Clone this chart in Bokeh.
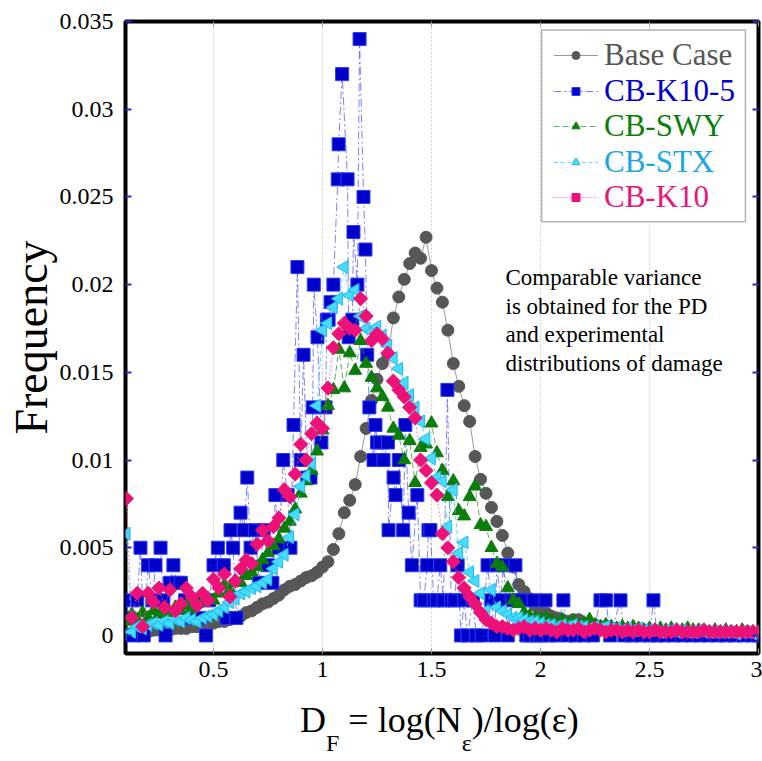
import math
from bokeh.plotting import figure
from bokeh.layouts import column
from bokeh.models import (Range1d, FixedTicker, Label, BoxAnnotation, Legend,
                          LegendItem, LinearAxis, CustomJSTickFormatter, Div)
from bokeh.embed import file_html
from bokeh.resources import INLINE

# ---------------- data ----------------
DF = [0.100, 0.125, 0.150, 0.175, 0.200, 0.225, 0.250, 0.275, 0.300, 0.325,
      0.350, 0.375, 0.400, 0.425, 0.450, 0.475, 0.500, 0.525, 0.550, 0.575,
      0.600, 0.625, 0.650, 0.675, 0.700, 0.725, 0.750, 0.775, 0.800, 0.825,
      0.850, 0.875, 0.900, 0.925, 0.950, 0.975, 1.000, 1.025, 1.050, 1.075,
      1.100, 1.125, 1.150, 1.175, 1.200, 1.225, 1.250, 1.275, 1.300, 1.325,
      1.350, 1.375, 1.400, 1.425, 1.450, 1.475, 1.500, 1.525, 1.550, 1.575,
      1.600, 1.625, 1.650, 1.675, 1.700, 1.725, 1.750, 1.775, 1.800, 1.825,
      1.850, 1.875, 1.900, 1.925, 1.950, 1.975, 2.000, 2.025, 2.050, 2.075,
      2.100, 2.125, 2.150, 2.175, 2.200, 2.225, 2.250, 2.275, 2.300, 2.325,
      2.350, 2.375, 2.400, 2.425, 2.450, 2.475, 2.500, 2.525, 2.550, 2.575,
      2.600, 2.625, 2.650, 2.675, 2.700, 2.725, 2.750, 2.775, 2.800, 2.825,
      2.850, 2.875, 2.900, 2.925, 2.950, 2.975, 3.000]

BASE_CASE = [0.0001, 0.0001, 0.0002, 0.0002, 0.0002, 0.0003, 0.0003, 0.0003, 0.0003, 0.0004,
             0.0004, 0.0004, 0.0005, 0.0005, 0.0005, 0.0006, 0.0007, 0.0008, 0.0008, 0.0009,
             0.0010, 0.0011, 0.0013, 0.0014, 0.0016, 0.0018, 0.0019, 0.0021, 0.0023, 0.0026,
             0.0028, 0.0029, 0.0031, 0.0033, 0.0034, 0.0036, 0.0039, 0.0042, 0.0049, 0.0058,
             0.0070, 0.0077, 0.0086, 0.0102, 0.0118, 0.0134, 0.0146, 0.0155, 0.0160, 0.0181,
             0.0193, 0.0203, 0.0212, 0.0218, 0.0215, 0.0227, 0.0208, 0.0198, 0.0190, 0.0174,
             0.0155, 0.0142, 0.0131, 0.0122, 0.0102, 0.0089, 0.0081, 0.0073, 0.0065, 0.0057,
             0.0047, 0.0039, 0.0029, 0.0025, 0.0021, 0.0017, 0.0015, 0.0013, 0.0011, 0.0010,
             0.0009, 0.0008, 0.0009, 0.0009, 0.0007, 0.0006, 0.0006, 0.0005, 0.0005, 0.0004,
             0.0004, 0.0004, 0.0003, 0.0003, 0.0003, 0.0003, 0.0002, 0.0002, 0.0002, 0.0002,
             0.0002, 0.0002, 0.0002, 0.0002, 0.0001, 0.0002, 0.0001, 0.0001, 0.0001, 0.0001,
             0.0001, 0.0001, 0.0001, 0.0001, 0.0001, 0.0001, 0.0001]

CB_SWY = [0.0008, 0.0012, 0.0009, 0.0013, 0.0010, 0.0014, 0.0012, 0.0015, 0.0013, 0.0016,
          0.0014, 0.0017, 0.0015, 0.0018, 0.0019, 0.0021, 0.0020, 0.0024, 0.0029, 0.0026,
          0.0031, 0.0030, 0.0034, 0.0036, 0.0039, 0.0043, 0.0047, 0.0051, 0.0055, 0.0061,
          0.0065, 0.0072, 0.0081, 0.0088, 0.0094, 0.0105, 0.0117, 0.0131, 0.0140, 0.0163,
          0.0141, 0.0161, 0.0151, 0.0168, 0.0155, 0.0147, 0.0141, 0.0136, 0.0130, 0.0118,
          0.0114, 0.0100, 0.0111, 0.0087, 0.0107, 0.0109, 0.0121, 0.0104, 0.0094, 0.0079,
          0.0088, 0.0071, 0.0068, 0.0079, 0.0085, 0.0063, 0.0062, 0.0050, 0.0041, 0.0039,
          0.0027, 0.0020, 0.0018, 0.0013, 0.0011, 0.0010, 0.0009, 0.0010, 0.0008, 0.0007,
          0.0009, 0.0007, 0.0008, 0.0006, 0.0007, 0.0009, 0.0006, 0.0005, 0.0006, 0.0005,
          0.0004, 0.0005, 0.0004, 0.0005, 0.0004, 0.0003, 0.0004, 0.0003, 0.0004, 0.0003,
          0.0004, 0.0003, 0.0003, 0.0004, 0.0003, 0.0003, 0.0003, 0.0002, 0.0003, 0.0002,
          0.0003, 0.0002, 0.0002, 0.0003, 0.0002, 0.0002, 0.0002]

CB_STX = [0.0058, 0.0002, 0.0005, 0.0004, 0.0006, 0.0007, 0.0006, 0.0008, 0.0007, 0.0009,
          0.0008, 0.0010, 0.0009, 0.0008, 0.0010, 0.0011, 0.0012, 0.0014, 0.0016, 0.0019,
          0.0021, 0.0024, 0.0025, 0.0027, 0.0028, 0.0030, 0.0032, 0.0038, 0.0042, 0.0046,
          0.0056, 0.0069, 0.0085, 0.0091, 0.0098, 0.0131, 0.0174, 0.0178, 0.0187, 0.0192,
          0.0210, 0.0194, 0.0197, 0.0182, 0.0175, 0.0173, 0.0176, 0.0171, 0.0165, 0.0158,
          0.0152, 0.0144, 0.0137, 0.0130, 0.0122, 0.0112, 0.0101, 0.0090, 0.0088, 0.0062,
          0.0083, 0.0047, 0.0053, 0.0036, 0.0031, 0.0024, 0.0014, 0.0026, 0.0016, 0.0014,
          0.0012, 0.0010, 0.0010, 0.0009, 0.0008, 0.0008, 0.0007, 0.0006, 0.0006, 0.0005,
          0.0006, 0.0005, 0.0006, 0.0005, 0.0005, 0.0004, 0.0005, 0.0004, 0.0005, 0.0004,
          0.0004, 0.0003, 0.0004, 0.0003, 0.0004, 0.0003, 0.0003, 0.0003, 0.0002, 0.0003,
          0.0003, 0.0002, 0.0003, 0.0002, 0.0002, 0.0003, 0.0002, 0.0002, 0.0002, 0.0002,
          0.0002, 0.0002, 0.0001, 0.0002, 0.0002, 0.0001, 0.0002]

CB_K10 = [0.0078, 0.0010, 0.0024, 0.0005, 0.0024, 0.0019, 0.0027, 0.0016, 0.0026, 0.0014,
          0.0018, 0.0027, 0.0022, 0.0017, 0.0024, 0.0020, 0.0032, 0.0027, 0.0035, 0.0022,
          0.0031, 0.0038, 0.0043, 0.0041, 0.0052, 0.0060, 0.0054, 0.0062, 0.0067, 0.0083,
          0.0079, 0.0092, 0.0109, 0.0100, 0.0115, 0.0121, 0.0118, 0.0141, 0.0164, 0.0172,
          0.0178, 0.0175, 0.0174, 0.0192, 0.0182, 0.0168, 0.0172, 0.0169, 0.0161, 0.0145,
          0.0140, 0.0136, 0.0130, 0.0124, 0.0100, 0.0094, 0.0087, 0.0080, 0.0058, 0.0050,
          0.0042, 0.0033, 0.0027, 0.0022, 0.0018, 0.0013, 0.0009, 0.0007, 0.0005, 0.0005,
          0.0004, 0.0003, 0.0004, 0.0005, 0.0003, 0.0004, 0.0003, 0.0004, 0.0003, 0.0002,
          0.0004, 0.0003, 0.0003, 0.0004, 0.0002, 0.0003, 0.0004, 0.0003, 0.0002, 0.0003,
          0.0003, 0.0002, 0.0003, 0.0002, 0.0003, 0.0002, 0.0002, 0.0003, 0.0002, 0.0002,
          0.0002, 0.0003, 0.0002, 0.0002, 0.0002, 0.0002, 0.0003, 0.0002, 0.0002, 0.0002,
          0.0002, 0.0002, 0.0002, 0.0002, 0.0002, 0.0002, 0.0002]

# CB-K10-5 is a small sample: its own abscissae
K105_DF = [0.100, 0.110, 0.130, 0.150, 0.165, 0.180, 0.200, 0.220, 0.234, 0.257,
           0.270, 0.280, 0.300, 0.316, 0.330, 0.350, 0.370, 0.400, 0.420, 0.440,
           0.465, 0.480, 0.500, 0.520, 0.547, 0.560, 0.578, 0.590, 0.605, 0.624,
           0.640, 0.655, 0.670, 0.690, 0.710, 0.730, 0.750, 0.770, 0.784, 0.800,
           0.820, 0.840, 0.853, 0.867, 0.885, 0.900, 0.913, 0.930, 0.945, 0.955,
           0.960, 0.977, 0.995, 1.014, 1.020, 1.028, 1.037, 1.050, 1.070, 1.074,
           1.090, 1.115, 1.120, 1.137, 1.142, 1.160, 1.170, 1.188, 1.197, 1.205,
           1.215, 1.234, 1.243, 1.250, 1.266, 1.280, 1.300, 1.303, 1.326, 1.335,
           1.350, 1.370, 1.380, 1.395, 1.410, 1.435, 1.450, 1.465, 1.480, 1.486,
           1.495, 1.510, 1.525, 1.540, 1.555, 1.573, 1.590, 1.605, 1.620, 1.635,
           1.650, 1.665, 1.690, 1.705, 1.730, 1.757, 1.775, 1.790, 1.800, 1.815,
           1.830, 1.850, 1.870, 1.885, 1.900, 1.915, 1.935, 1.950, 1.968, 1.985,
           2.000, 2.023, 2.040, 2.070, 2.105, 2.125, 2.160, 2.200, 2.240, 2.275,
           2.300, 2.320, 2.367, 2.385, 2.420, 2.460, 2.500, 2.518, 2.535, 2.570,
           2.610, 2.650, 2.690, 2.730, 2.770, 2.810, 2.850, 2.890, 2.930, 2.970,
           3.000]
CB_K10_5 = [0.002, 0.001, 0.000, 0.002, 0.005, 0.000, 0.004, 0.002, 0.004, 0.005,
            0.002, 0.000, 0.003, 0.004, 0.003, 0.003, 0.002, 0.001, 0.002, 0.001,
            0.000, 0.002, 0.004, 0.005, 0.004, 0.001, 0.006, 0.005, 0.001, 0.007,
            0.006, 0.009, 0.005, 0.006, 0.003, 0.006, 0.004, 0.003, 0.008, 0.005,
            0.010, 0.008, 0.005, 0.012, 0.021, 0.010, 0.016, 0.009, 0.009, 0.013,
            0.020, 0.017, 0.011, 0.013, 0.018, 0.018, 0.019, 0.020, 0.026, 0.028,
            0.032, 0.026, 0.017, 0.018, 0.023, 0.020, 0.034, 0.025, 0.022, 0.016,
            0.013, 0.010, 0.012, 0.011, 0.011, 0.010, 0.011, 0.006, 0.009, 0.008,
            0.010, 0.006, 0.012, 0.007, 0.004, 0.008, 0.002, 0.002, 0.004, 0.006,
            0.006, 0.002, 0.002, 0.004, 0.002, 0.014, 0.002, 0.002, 0.004, 0.000,
            0.002, 0.000, 0.002, 0.000, 0.000, 0.004, 0.002, 0.000, 0.004, 0.002,
            0.004, 0.000, 0.002, 0.004, 0.002, 0.002, 0.000, 0.000, 0.002, 0.000,
            0.000, 0.002, 0.000, 0.000, 0.002, 0.000, 0.000, 0.000, 0.000, 0.002,
            0.002, 0.000, 0.002, 0.000, 0.000, 0.000, 0.000, 0.002, 0.000, 0.000,
            0.000, 0.000, 0.000, 0.000, 0.000, 0.000, 0.000, 0.000, 0.000, 0.000,
            0.000]

X_TICKS = [0.5, 1.0, 1.5, 2.0, 2.5, 3.0]
X_TICK_LABELS = ["0.5", "1", "1.5", "2", "2.5", "3"]
Y_TICKS = [0.0, 0.005, 0.01, 0.015, 0.02, 0.025, 0.03, 0.035]
Y_TICK_LABELS = ["0", "0.005", "0.01", "0.015", "0.02", "0.025", "0.03", "0.035"]

SERIES_NAMES = ["Base Case", "CB-K10-5", "CB-SWY", "CB-STX", "CB-K10"]
NOTE_LINES = ["Comparable variance", "is obtained for the PD",
              "and experimental", "distributions of damage"]
Y_TITLE = "Frequency"

FONT = "Liberation Serif"

# ---------------- main figure ----------------
p = figure(width=762, height=700,
           x_range=Range1d(0.0963, 3.0), y_range=Range1d(-0.00103, 0.0350),
           output_backend="svg", toolbar_location=None,
           min_border_left=125, min_border_right=4, min_border_top=21,
           min_border_bottom=47)
p.outline_line_color = "black"
p.outline_line_width = 4
p.background_fill_color = "white"
p.border_fill_color = "white"

JS_FMT = ("const i = tvals.findIndex(t => Math.abs(t - tick) < 1e-9);"
          "return i >= 0 ? tlabels[i] : '';")

xa = p.xaxis[0]
xa.ticker = FixedTicker(ticks=X_TICKS)
xa.formatter = CustomJSTickFormatter(args=dict(tvals=X_TICKS, tlabels=X_TICK_LABELS), code=JS_FMT)
xa.major_label_text_font = FONT
xa.major_label_text_font_size = "24px"
xa.major_label_text_color = "black"
xa.major_label_standoff = 8
xa.major_tick_in = 5
xa.major_tick_out = 0
xa.major_tick_line_color = "#9a9a9a"
xa.minor_tick_line_color = None
xa.axis_line_color = None

ya = p.yaxis[0]
ya.ticker = FixedTicker(ticks=Y_TICKS)
ya.formatter = CustomJSTickFormatter(args=dict(tvals=Y_TICKS, tlabels=Y_TICK_LABELS), code=JS_FMT)
ya.major_label_text_font = FONT
ya.major_label_text_font_size = "24px"
ya.major_label_text_color = "black"
ya.major_label_standoff = 12
ya.major_tick_in = 6
ya.major_tick_out = 0
ya.major_tick_line_color = "#2a2acc"
ya.major_tick_line_width = 2
ya.minor_tick_line_color = None
ya.axis_line_color = None
ya.axis_label = Y_TITLE
ya.axis_label_text_font = FONT
ya.axis_label_text_font_size = "46px"
ya.axis_label_text_font_style = "normal"
ya.axis_label_text_color = "black"
ya.axis_label_standoff = 0

NO_LABELS = CustomJSTickFormatter(code="return '';")
right_axis = LinearAxis(ticker=FixedTicker(ticks=Y_TICKS), formatter=NO_LABELS,
                        major_label_text_font_size="1px",
                        major_label_standoff=0, axis_line_color=None, major_tick_in=6,
                        major_tick_out=0, minor_tick_line_color=None,
                        major_tick_line_color="#2a2acc", major_tick_line_width=2)
p.add_layout(right_axis, "right")
top_axis = LinearAxis(ticker=FixedTicker(ticks=X_TICKS),
                      formatter=CustomJSTickFormatter(code="return '';"),
                      major_label_text_font_size="1px",
                      major_label_standoff=0, axis_line_color=None, major_tick_in=5,
                      major_tick_out=0, minor_tick_line_color=None,
                      major_tick_line_color="#9a9a9a")
p.add_layout(top_axis, "above")

p.xgrid.ticker = FixedTicker(ticks=X_TICKS)
p.xgrid.grid_line_color = "#cfcfcf"
p.xgrid.grid_line_dash = "2 2"
p.ygrid.grid_line_color = None

# ---------------- series ----------------
base_l = p.line(DF, BASE_CASE, line_color="#9a9a9a", line_width=1)
base_s = p.scatter(DF, BASE_CASE, marker="circle", size=12,
                   fill_color="#575757", line_color="#575757")

k105_l = p.line(K105_DF, CB_K10_5, line_color="#4a4af0", line_width=1, line_alpha=0.7,
                line_dash="8 3 2 3")
k105_s = p.scatter(K105_DF, CB_K10_5, marker="square", size=13,
                   fill_color="#0000c8", line_color="#2a3cff")

swy_l = p.line(DF, CB_SWY, line_color="#3aa03a", line_width=1, line_alpha=0.8,
               line_dash="6 3")
swy_s = p.scatter(DF, CB_SWY, marker="triangle", size=13,
                  fill_color="#0a7d0a", line_color="#0a7d0a")

stx_l = p.line(DF, CB_STX, line_color="#33ccff", line_width=1, line_alpha=0.8,
               line_dash="4 3")
stx_s = p.scatter(DF, CB_STX, marker="triangle", size=13, angle=-math.pi / 6,
                  fill_color="#44ddff", line_color="#1fb8ee")

k10_l = p.line(DF, CB_K10, line_color="#ff5fa5", line_width=1, line_alpha=0.8,
               line_dash="2 2")
k10_s = p.scatter(DF, CB_K10, marker="square", size=10, angle=math.pi / 4,
                  fill_color="#ee1177", line_color="#ee1177")

# ---------------- legend ----------------
legend_box = BoxAnnotation(left=2.005, right=2.940, bottom=0.02358, top=0.03451,
                           fill_color="white", fill_alpha=1.0,
                           line_color="black", line_width=1.5)
p.add_layout(legend_box)

text_colors = ["#555555", "#0000cc", "#0a7d0a", "#1aa6e6", "#e8157a"]
renderer_pairs = [[base_l, base_s], [k105_l, k105_s], [swy_l, swy_s],
                  [stx_l, stx_s], [k10_l, k10_s]]
item_centers = [55, 90.5, 126, 161.5, 197]   # canvas px
frame_bottom = 700 - 47
item_h = 36
for name, rends, col, cy in zip(SERIES_NAMES, renderer_pairs, text_colors, item_centers):
    lg = Legend(items=[LegendItem(label=name, renderers=rends)],
                location=(428, frame_bottom - cy - item_h / 2),
                label_text_font=FONT, label_text_font_size="31px",
                label_text_color=col, glyph_width=45, glyph_height=20,
                label_height=20, label_standoff=6, padding=0, margin=0, spacing=0,
                border_line_color=None, background_fill_alpha=0)
    p.add_layout(lg)

# ---------------- note text ----------------
for i, line in enumerate(NOTE_LINES):
    ypx = 277 + 28.5 * i
    p.add_layout(Label(x=1.8394, y=(635 - ypx) * 0.005 / 87.8, text=line,
                       text_font=FONT, text_font_size="23px", text_color="black",
                       text_baseline="alphabetic", text_align="left"))

# ---------------- x title (HTML, with subscripts) ----------------
sub = '<span style="font-size:24px; position:relative; top:19px;">{}</span>'
x_title_html = ('<div style="font-family:\'Liberation Serif\',serif; font-size:36px; '
                'line-height:40px; color:black; padding-left:300px; white-space:nowrap;">'
                'D' + sub.format('F') + ' = log(N' + sub.format('\u03b5') +
                ')/log(\u03b5)</div>')
x_title = Div(text=x_title_html, width=762, height=61, margin=(0, 0, 0, 0))

layout = column(p, x_title, spacing=0)
open("out.html", "w").write(file_html(layout, INLINE))
